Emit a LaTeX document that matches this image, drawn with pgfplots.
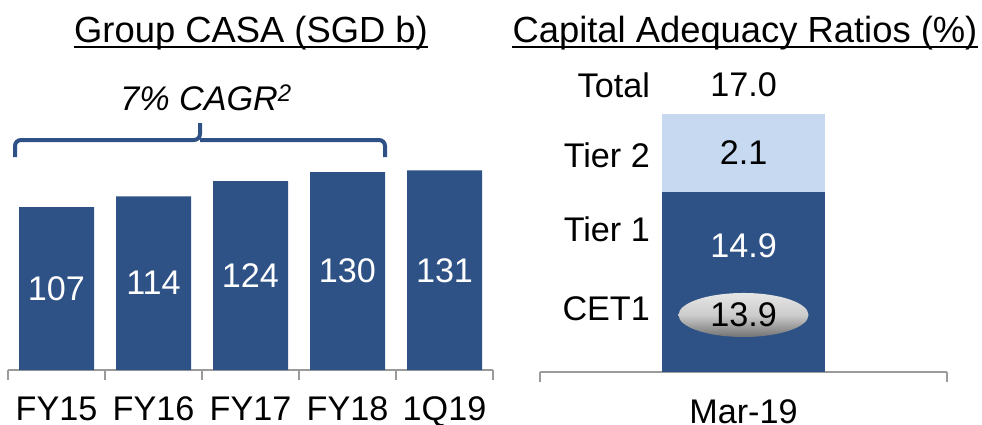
\documentclass[border=0pt]{standalone}
\usepackage{pgfplots}
\pgfplotsset{compat=1.18}
\usepackage{fontspec}
\setmainfont{Liberation Sans}
\definecolor{dblue}{HTML}{2F5286}
\definecolor{lblue}{HTML}{C6D9F0}
\definecolor{agray}{HTML}{9B9B9B}
\newcommand\lab{\fontsize{34.3}{40}\selectfont}
\newcommand\ttl{\fontsize{36.5}{44}\selectfont}
\begin{document}
\begin{tikzpicture}[x=1bp,y=1bp]
\useasboundingbox (0,0) rectangle (982,424);
% titles
\node[anchor=base, inner sep=0pt, font=\ttl] (t1) at (251,382) {Group CASA (SGD b)};
\draw[line width=2bp] ([yshift=-5bp]t1.base west) -- ([yshift=-5bp]t1.base east);
\node[anchor=base, inner sep=0pt, font=\ttl] (t2) at (745,382) {Capital Adequacy Ratios (\%)};
\draw[line width=2bp] ([yshift=-5bp]t2.base west) -- ([yshift=-5bp]t2.base east);
% brace
\draw[dblue, line width=4bp, rounded corners=6bp] (15,267) |- (200,284) -- (200,301);
\draw[dblue, line width=4bp, rounded corners=6bp] (385,267) |- (200,284);
\node[font=\lab\itshape, anchor=base, inner sep=0pt] at (206,314) {7\% CAGR\textsuperscript{2}};

\begin{axis}[at={(8bp,54bp)}, anchor=south west, scale only axis,
  width=485bp, height=304.6bp, xmin=-0.5, xmax=4.5, ymin=0, ymax=200,
  clip=false, hide y axis, axis x line*=bottom,
  axis line style={agray, line width=1.5bp},
  xtick={0,1,2,3,4}, xticklabels={FY15,FY16,FY17,FY18,1Q19},
  major tick length=0pt,
  xticklabel style={font=\lab, anchor=north, inner sep=0pt, yshift=-26.5bp},
  extra x ticks={-0.5,0.5,1.5,2.5,3.5,4.5}, extra x tick labels={},
  extra x tick style={major tick length=10bp, tick align=outside,
    tick style={agray, line width=1.5bp}}]
\addplot[ybar, bar width=75bp, bar shift=0pt, fill=dblue, draw=none]
  coordinates {(0,107) (1,114) (2,124) (3,130) (4,131)};
\addplot[draw=none, mark=none, nodes near coords, point meta=explicit symbolic,
  every node near coord/.append style={font=\lab, text=white, anchor=center, inner sep=0pt}]
  coordinates {(0,53.5)[107] (1,57)[114] (2,62)[124] (3,65)[130] (4,65.5)[131]};
\end{axis}

\begin{axis}[at={(540bp,52bp)}, anchor=south west, scale only axis,
  width=407bp, height=302bp, xmin=-1.25, xmax=1.25, ymin=0, ymax=25,
  clip=false, hide y axis, axis x line*=bottom,
  axis line style={agray, line width=1.5bp},
  xtick={0}, xticklabels={Mar-19},
  major tick length=0pt,
  xticklabel style={font=\lab, anchor=north, inner sep=0pt, yshift=-27.5bp},
  extra x ticks={-1.25,1.25}, extra x tick labels={},
  extra x tick style={major tick length=10bp, tick align=outside,
    tick style={agray, line width=1.5bp}}]
% Tier 2 segment drawn to its height in the picture (2.1 is exaggerated there)
\addplot[ybar, bar width=163bp, bar shift=0pt, fill=lblue, draw=none] coordinates {(0,21.36)};
\addplot[ybar, bar width=163bp, bar shift=0pt, fill=dblue, draw=none] coordinates {(0,14.9)};
\shade[top color=black!10, bottom color=black!55, middle color=black!20] (axis cs:0,4.72) ellipse [x radius=65bp, y radius=22bp];
\node[font=\lab, anchor=east, inner sep=0pt] at (axis cs:-0.574,23.72) {Total};
\node[font=\lab, anchor=east, inner sep=0pt] at (axis cs:-0.574,17.92) {Tier 2};
\node[font=\lab, anchor=east, inner sep=0pt] at (axis cs:-0.574,11.84) {Tier 1};
\node[font=\lab, anchor=east, inner sep=0pt] at (axis cs:-0.574,5.22) {CET1};
\node[font=\lab, anchor=center, inner sep=0pt] at (axis cs:0,23.8) {17.0};
\node[font=\lab, anchor=center, inner sep=0pt] at (axis cs:0,18.13) {2.1};
\node[font=\lab, anchor=center, inner sep=0pt, text=white] at (axis cs:0,10.43) {14.9};
\node[font=\lab, anchor=center, inner sep=0pt] at (axis cs:0,4.72) {13.9};
\end{axis}
\end{tikzpicture}
\end{document}
